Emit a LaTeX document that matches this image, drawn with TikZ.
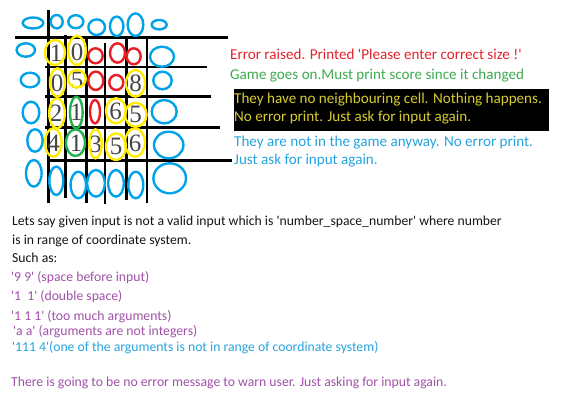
\documentclass[tikz,border=0pt]{standalone}
\usepackage{fontspec}
\setmainfont{Carlito}[Ligatures=TeXOff]
\newfontfamily\digitfont{Liberation Serif}
\definecolor{pblue}{RGB}{0,162,232}
\definecolor{pyellow}{RGB}{255,236,0}
\definecolor{pred}{RGB}{237,28,36}
\definecolor{pgreen}{RGB}{34,177,76}
\definecolor{tred}{RGB}{226,34,44}
\definecolor{tgreen}{RGB}{60,170,78}
\definecolor{tyellow}{RGB}{216,204,48}
\definecolor{tblue}{RGB}{38,163,221}
\definecolor{tpurple}{RGB}{160,80,168}
\definecolor{tblack}{RGB}{20,20,20}
\definecolor{dgray}{RGB}{70,70,70}
\tikzset{
  gridline/.style={line width=2.7pt, black},
  bc/.style={draw=pblue, line width=2.4pt},
  yc/.style={draw=pyellow, line width=2.4pt},
  rc/.style={draw=pred, line width=2.4pt},
  gc/.style={draw=pgreen, line width=2.4pt},
  dig/.style={font=\digitfont\fontsize{25}{25}\selectfont, text=dgray, inner sep=0pt, anchor=center},
  txt/.style={font=\fontsize{13.7}{16}\selectfont, inner sep=0pt, anchor=base west},
  ttxt/.style={font=\fontsize{15.1}{17}\selectfont, inner sep=0pt, anchor=base west},
}
\begin{document}
\begin{tikzpicture}[x=1pt,y=-1pt]
\useasboundingbox (0,0) rectangle (574,414);
% grid
\draw[gridline] (15,37.5) -- (228,37.5);
\draw[gridline] (45,67) -- (207,67);
\draw[gridline] (45,96.7) -- (211,96.7);
\draw[gridline] (45,127.7) -- (220,127.7);
\draw[gridline] (47,160.5) -- (232,160.5);
\draw[gridline] (48.3,10) -- (48.3,203);
\draw[gridline] (65.5,35) -- (65.5,198);
\draw[gridline] (86.5,38) -- (86.5,203);
\draw[gridline] (105,43) -- (105,204);
\draw[gridline] (126.3,39) -- (126.3,200);
\draw[gridline] (147,39) -- (147,203);
% digits
\node[dig] (d11) at (56,53) {1};
\node[dig] (d12) at (77,52) {0};
\node[dig] (d21) at (57,83) {0};
\node[dig] (d22) at (77,80) {5};
\node[dig] (d25) at (135.5,83) {8};
\node[dig] (d31) at (56,113) {2};
\node[dig] (d32) at (76.5,112) {1};
\node[dig] (d34) at (115.5,111) {6};
\node[dig] (d35) at (135.5,114) {5};
\node[dig] (d41) at (53.5,143) {4};
\node[dig] (d42) at (76,143) {1};
\node[dig] (d43) at (95.5,144) {3};
\node[dig] (d44) at (116,146) {5};
\node[dig] (d45) at (135,143) {6};
% top row blue
\draw[bc] (33,23) ellipse [x radius=10.3, y radius=5.5];
\draw[bc] (56.7,21.7) ellipse [x radius=6, y radius=6.7];
\draw[bc] (75.8,21.7) ellipse [x radius=7.5, y radius=6.5];
\draw[bc] (96.7,27.2) ellipse [x radius=8.3, y radius=7.8];
\draw[bc] (116.7,26.3) ellipse [x radius=6.7, y radius=9.7];
\draw[bc] (135.5,24.7) ellipse [x radius=7.8, y radius=11.3];
\draw[bc] (159.2,24.7) ellipse [x radius=7.5, y radius=4.7];
% left column blue
\draw[bc] (25.8,50) ellipse [x radius=9.2, y radius=6.7];
\draw[bc] (30,80) ellipse [x radius=9.3, y radius=7.3];
\draw[bc] (31,112.5) ellipse [x radius=8.3, y radius=10.8];
\draw[bc] (35,140.5) ellipse [x radius=7.7, y radius=11.2];
\draw[bc] (33.8,173.3) ellipse [x radius=7.8, y radius=13.3];
% bottom row blue
\draw[bc] (56.3,180.8) ellipse [x radius=7, y radius=14.2];
\draw[bc] (78.3,185) ellipse [x radius=7.7, y radius=13.3];
\draw[bc] (96,183.3) ellipse [x radius=8.8, y radius=13.3];
\draw[bc] (116,183.3) ellipse [x radius=7.8, y radius=13.3];
\draw[bc] (135.8,185) ellipse [x radius=7.5, y radius=13.3];
\draw[bc] (169.7,178.3) ellipse [x radius=16.3, y radius=15];
% right column blue
\draw[bc] (162,56.7) ellipse [x radius=12, y radius=10];
\draw[bc] (162.5,80.5) ellipse [x radius=9.2, y radius=8.8];
\draw[bc] (164.2,111.7) ellipse [x radius=12.5, y radius=11.7];
\draw[bc] (168.7,145) ellipse [x radius=14.7, y radius=13.3];
% row 1
\draw[yc] (55,52.5) ellipse [x radius=10, y radius=12.5];
\draw[yc] (77,50.5) ellipse [x radius=8.8, y radius=14.5];
\draw[rc] (95.5,55.8) ellipse [x radius=7.2, y radius=7.5];
\draw[rc] (117.5,53) ellipse [x radius=7.5, y radius=9.7];
\draw[rc] (133.7,56.3) ellipse [x radius=7, y radius=8];
% row 2
\draw[yc] (57.5,82.5) ellipse [x radius=7.5, y radius=14.2];
\draw[yc] (77,78.7) ellipse [x radius=8.8, y radius=8.7];
\draw[rc] (95.8,80.8) ellipse [x radius=7.5, y radius=9.2];
\draw[rc] (116.3,82.5) ellipse [x radius=7, y radius=7.5];
\draw[yc] (135.5,83.3) ellipse [x radius=9.5, y radius=13.3];
% row 3
\draw[yc] (57,113.3) ellipse [x radius=7.8, y radius=15];
\draw[gc] (76.3,112.5) ellipse [x radius=6.3, y radius=15.8];
\draw[rc] (95,111.7) ellipse [x radius=5, y radius=11.7];
\draw[yc] (116,110.8) ellipse [x radius=10, y radius=12.5];
\draw[yc] (135.8,114.7) ellipse [x radius=10.8, y radius=12];
% row 4
\draw[yc] (53.3,142.5) ellipse [x radius=8.3, y radius=14.2];
\draw[gc] (75.5,142.7) ellipse [x radius=9.5, y radius=13.3];
\draw[yc] (95.5,143.8) ellipse [x radius=6.2, y radius=14.5];
\draw[yc] (116,146.7) ellipse [x radius=10, y radius=13.3];
\draw[yc] (135,142.5) ellipse [x radius=10, y radius=14.2];
% right texts
\node[ttxt, text=tred] (t1) at (230,59.3) {Error raised. Printed 'Please enter correct size !'};
\node[ttxt, text=tgreen] (t2) at (230,79.7) {Game goes on.Must print score since it changed};
\fill[black] (234,89.3) rectangle (549,130.7);
\node[ttxt, text=tyellow] (t3) at (234,104) {They have no neighbouring cell. Nothing happens.};
\node[ttxt, text=tyellow] (t4) at (234,121.5) {No error print. Just ask for input again.};
\node[ttxt, text=tblue] (t5) at (234,147) {They are not in the game anyway. No error print.};
\node[ttxt, text=tblue] (t6) at (234,165) {Just ask for input again.};
% lower texts
\node[txt, text=tblack] (l1) at (12,226) {Lets say given input is not a valid input which is 'number\_space\_number' where number};
\node[txt, text=tblack] (l2) at (12,244.5) {is in range of coordinate system.};
\node[txt, text=tblack] (l3) at (12,262.5) {Such as:};
\node[txt, text=tpurple] (l4) at (11,281.5) {'9 9' (space before input)};
\node[txt, text=tpurple] (l5) at (11,301) {'1\ \ 1' (double space)};
\node[txt, text=tpurple] (l6) at (11,320.5) {'1 1 1' (too much arguments)};
\node[txt, text=tpurple] (l7) at (13,336) {'a a' (arguments are not integers)};
\node[txt, text=tblue] (l8) at (12,352) {'111 4'(one of the arguments is not in range of coordinate system)};
\node[txt, text=tpurple] (l9) at (11,387) {There is going to be no error message to warn user. Just asking for input again.};
\end{tikzpicture}
\end{document}
